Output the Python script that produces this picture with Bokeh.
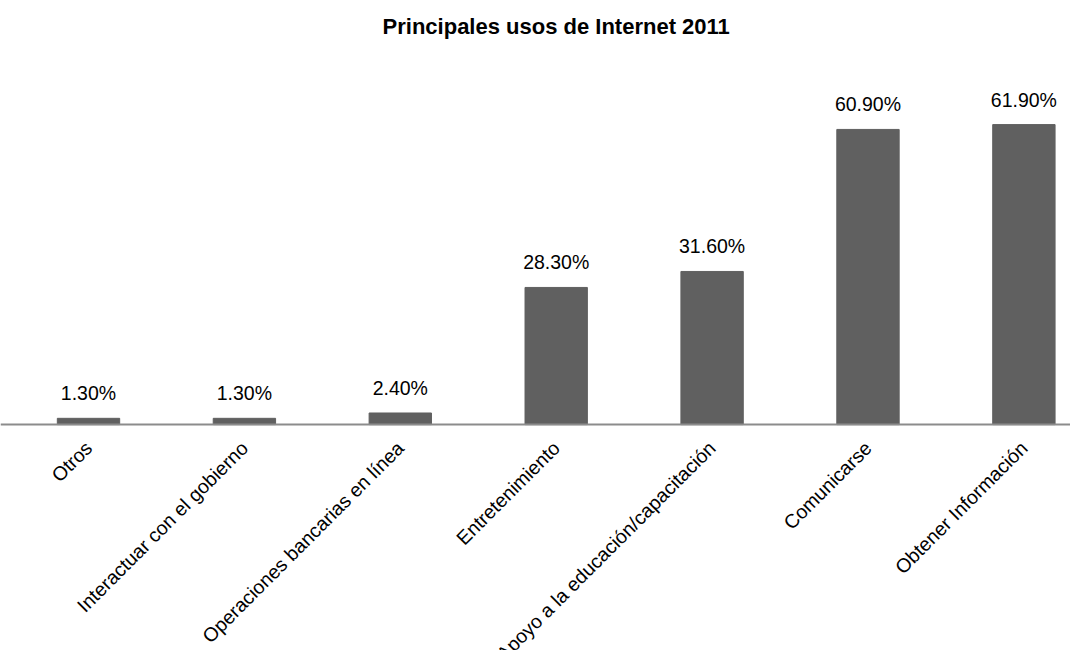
import math
from bokeh.plotting import figure
from bokeh.models import ColumnDataSource, Range1d, Span
from bokeh.core.properties import value
from bokeh.embed import file_html
from bokeh.resources import INLINE

title = "Principales usos de Internet 2011"
categories = ["Otros", "Interactuar con el gobierno", "Operaciones bancarias en línea",
              "Entretenimiento", "Apoyo a la educación/capacitación", "Comunicarse",
              "Obtener Información"]
values = [1.3, 1.3, 2.4, 28.3, 31.6, 60.9, 61.9]
labels = ["1.30%", "1.30%", "2.40%", "28.30%", "31.60%", "60.90%", "61.90%"]

FONT = "Liberation Sans"

YTOP = 87.5
YBOTTOM = -46.6

xs = list(range(len(categories)))
src = ColumnDataSource(dict(x=xs, top=values, lab=labels,
                            zero=[0] * len(xs), cat=categories))

p = figure(width=1070, height=650, output_backend="svg", toolbar_location=None,
           x_axis_type=None, y_axis_type=None,
           x_range=Range1d(-0.5645, 6.299), y_range=Range1d(YBOTTOM, YTOP),
           min_border_left=0, min_border_right=0, min_border_top=0, min_border_bottom=0)
p.outline_line_color = None
p.grid.visible = False

p.vbar(x="x", top="top", bottom=0, width=0.4, source=src, color="#606060")
p.add_layout(Span(location=0, dimension="width", line_color="#8c8c8c", line_width=2))

# title, centred over the middle category at the top of the plot
p.text(x=[xs[len(xs) // 2]], y=[YTOP], text=[title], text_align="center",
       text_baseline="middle", y_offset=26,
       text_font=value(FONT), text_font_size="22px", text_font_style="bold",
       text_color="#000000")

p.text(x="x", y="top", text="lab", source=src, text_align="center",
       text_baseline="alphabetic", y_offset=-25,
       text_font=value(FONT), text_font_size="19.5px", text_color="#000000")

p.text(x="x", y="zero", text="cat", source=src, angle=math.pi / 4,
       text_align="right", text_baseline="middle", x_offset=0, y_offset=20,
       text_font=value(FONT), text_font_size="19.5px", text_color="#000000")

open("out.html", "w").write(file_html(p, INLINE))
